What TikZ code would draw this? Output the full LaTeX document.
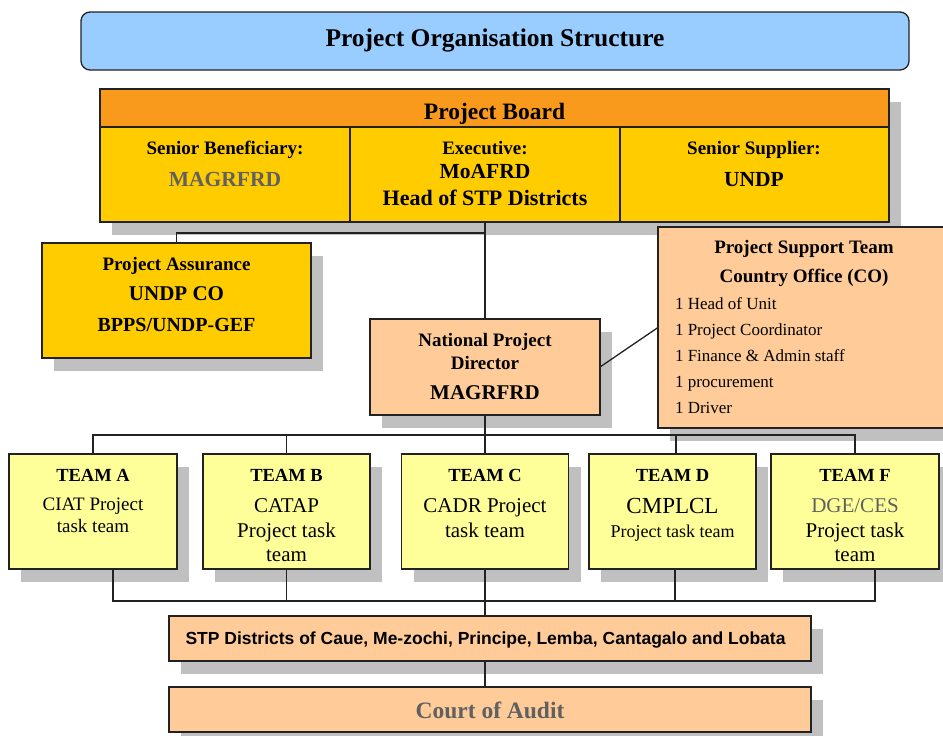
\documentclass[tikz,border=0pt]{standalone}
\usepackage{fontspec}
\setmainfont{Liberation Serif}
\newfontfamily\arialfont{Liberation Sans}
\usetikzlibrary{shadows}
\definecolor{titleblue}{HTML}{99CCFF}
\definecolor{boardorange}{HTML}{F99A1C}
\definecolor{goldfill}{HTML}{FFCC00}
\definecolor{peach}{HTML}{FFCC99}
\definecolor{paleyellow}{HTML}{FFFF99}
\definecolor{shadowgray}{HTML}{C0C0C0}
\definecolor{edgecol}{HTML}{222222}
\definecolor{greytext}{HTML}{606060}
\newcommand\fsz[1]{\fontsize{#1}{#1}\selectfont}
\begin{document}
\begin{tikzpicture}[x=1pt,y=-1pt,
  box/.style={draw=edgecol, line width=1.3pt, anchor=north west, inner sep=0pt, outer sep=0pt},
  shad/.style={general shadow={fill=shadowgray, shadow xshift=12pt, shadow yshift=-13pt}},
  txt/.style={anchor=base, inner sep=0pt, outer sep=0pt, text=black},
  ltxt/.style={anchor=base west, inner sep=0pt, outer sep=0pt, text=black},
  wire/.style={draw=edgecol, line width=1.3pt},
]
\useasboundingbox (0,0) rectangle (943,736);
\clip (0,0) rectangle (943,736);
\fill[white] (0,0) rectangle (943,736);

% title
\node[box, rounded corners=9pt, fill=titleblue, minimum width=828pt, minimum height=58pt] (title) at (81,12) {};
\node[txt] (titletxt) at (495,46) {\fsz{25.5}\bfseries Project Organisation Structure};

% project board
\node[box, shad, fill=goldfill, minimum width=789pt, minimum height=133pt] (board) at (100,89) {};
\node[box, fill=boardorange, minimum width=789pt, minimum height=38pt] (boardhead) at (100,89) {};
\node[box, fill=goldfill, minimum width=250pt, minimum height=95pt] (benef) at (100,127) {};
\node[box, fill=goldfill, minimum width=270pt, minimum height=95pt] (exec) at (350,127) {};
\node[box, fill=goldfill, minimum width=269pt, minimum height=95pt] (suppl) at (620,127) {};
\node[txt] (boardtxt) at (494.5,119) {\fsz{23.5}\bfseries Project Board};
\node[txt] (beneft1) at (225,154) {\fsz{19}\bfseries Senior Beneficiary:};
\node[txt, text=greytext] (beneft2) at (225,186) {\fsz{21.5}\bfseries MAGRFRD};
\node[txt] (exect1) at (485,154) {\fsz{19}\bfseries Executive:};
\node[txt] (exect2) at (485,178) {\fsz{21.5}\bfseries MoAFRD};
\node[txt] (exect3) at (485,205) {\fsz{22}\bfseries Head of STP Districts};
\node[txt] (supplt1) at (754,154) {\fsz{19}\bfseries Senior Supplier:};
\node[txt] (supplt2) at (754,186) {\fsz{21.5}\bfseries UNDP};

% project assurance
\node[box, shad, fill=goldfill, minimum width=269pt, minimum height=115pt] (assur) at (42,243) {};
\node[txt] (assurt1) at (176.5,270) {\fsz{19}\bfseries Project Assurance};
\node[txt] (assurt2) at (176.5,300.5) {\fsz{21}\bfseries UNDP CO};
\node[txt] (assurt3) at (176.5,331) {\fsz{20}\bfseries BPPS/UNDP-GEF};

% national project director
\node[box, shad, fill=peach, minimum width=230pt, minimum height=96pt] (npd) at (370,319) {};
\node[txt] (npdt1) at (485,346) {\fsz{19}\bfseries National Project};
\node[txt] (npdt2) at (485,369) {\fsz{19}\bfseries Director};
\node[txt] (npdt3) at (485,399) {\fsz{21}\bfseries MAGRFRD};

% project support team
\node[box, shad, fill=peach, minimum width=292pt, minimum height=201pt] (support) at (658,227) {};
\node[txt] (supt1) at (804,253) {\fsz{19}\bfseries Project Support Team};
\node[txt] (supt2) at (804,282) {\fsz{19}\bfseries Country Office (CO)};
\node[ltxt] (supi1) at (675,309) {\fsz{17}1 Head of Unit};
\node[ltxt] (supi2) at (675,335) {\fsz{17}1 Project Coordinator};
\node[ltxt] (supi3) at (675,361) {\fsz{17}1 Finance \& Admin staff};
\node[ltxt] (supi4) at (675,387) {\fsz{17}1 procurement};
\node[ltxt] (supi5) at (675,413) {\fsz{17}1 Driver};

% teams
\node[box, shad, fill=paleyellow, minimum width=168pt, minimum height=115pt] (teamA) at (9,454) {};
\node[box, shad, fill=paleyellow, minimum width=167pt, minimum height=115pt] (teamB) at (203,454) {};
\node[box, shad, fill=paleyellow, minimum width=167pt, minimum height=115pt] (teamC) at (401.5,454) {};
\node[box, shad, fill=paleyellow, minimum width=167pt, minimum height=115pt] (teamD) at (589,454) {};
\node[box, shad, fill=paleyellow, minimum width=168pt, minimum height=115pt] (teamF) at (771,454) {};

\node[txt] (tAt1) at (93,481) {\fsz{18.5}\bfseries TEAM A};
\node[txt] (tAt2) at (93,510) {\fsz{19}CIAT Project};
\node[txt] (tAt3) at (93,532) {\fsz{19}task team};

\node[txt] (tBt1) at (286.5,481) {\fsz{18.5}\bfseries TEAM B};
\node[txt] (tBt2) at (286.5,512) {\fsz{21}CATAP};
\node[txt] (tBt3) at (286.5,537) {\fsz{21}Project task};
\node[txt] (tBt4) at (286.5,561) {\fsz{21}team};

\node[txt] (tCt1) at (485,481) {\fsz{18.5}\bfseries TEAM C};
\node[txt] (tCt2) at (485,512) {\fsz{21}CADR Project};
\node[txt] (tCt3) at (485,537) {\fsz{21}task team};

\node[txt] (tDt1) at (672.5,481) {\fsz{18.5}\bfseries TEAM D};
\node[txt] (tDt2) at (672.5,513.5) {\fsz{23}CMPLCL};
\node[txt] (tDt3) at (672.5,537) {\fsz{18}Project task team};

\node[txt] (tFt1) at (855,481) {\fsz{18.5}\bfseries TEAM F};
\node[txt, text=greytext] (tFt2) at (855,512) {\fsz{21}DGE/CES};
\node[txt] (tFt3) at (855,537) {\fsz{21}Project task};
\node[txt] (tFt4) at (855,561) {\fsz{21}team};

% districts and court
\node[box, shad, fill=peach, minimum width=642pt, minimum height=45pt] (stp) at (169,616) {};
\node[txt] (stpt) at (485.5,644.5) {\arialfont\fsz{17.5}\bfseries STP Districts of Caue, Me-zochi, Principe, Lemba, Cantagalo and Lobata};
\node[box, shad, fill=peach, minimum width=642pt, minimum height=45pt] (court) at (169,687) {};
\node[txt, text=greytext] (courtt) at (490,718) {\fsz{23.5}\bfseries Court of Audit};

% connectors
\coordinate (j1) at (485,233);
\coordinate (bus1) at (485,435);
\coordinate (bus2) at (485,601);
\draw[wire] (exec.south) -- (npd.north);
\draw[wire] (j1) -| (assur.north);
\draw[wire] (npd.east) -- (support.west);
\draw[wire] (npd.south) -- (teamC.north);
\draw[wire] (teamA.north) |- (bus1) -| (teamF.north);
\draw[wire] (teamB.north) -- (teamB.north |- bus1);
\draw[wire] ([xshift=3.5pt]teamD.north) -- ([xshift=3.5pt]teamD.north |- bus1);
\draw[wire] ([xshift=20pt]teamA.south) |- (bus2) -| ([xshift=20pt]teamF.south);
\draw[wire] (teamB.south) -- (teamB.south |- bus2);
\draw[wire] ([xshift=2.5pt]teamD.south) -- ([xshift=2.5pt]teamD.south |- bus2);
\draw[wire] (teamC.south) -- (teamC.south |- stp.north);
\draw[wire] (stp.south -| teamC.south) -- (court.north -| teamC.south);
\end{tikzpicture}
\end{document}
